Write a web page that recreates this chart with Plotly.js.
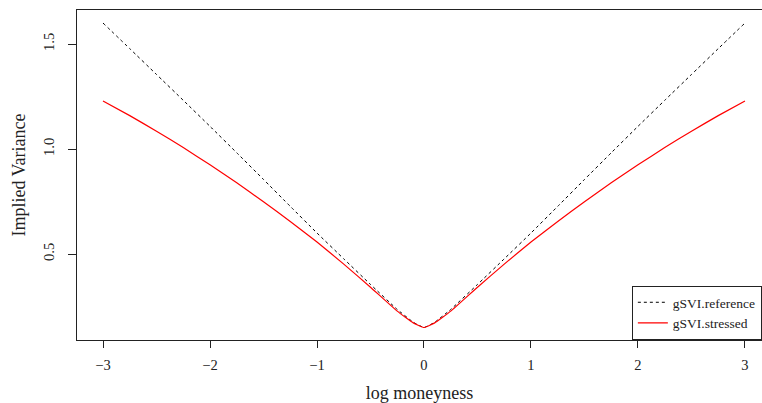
<!DOCTYPE html>
<html>
<head>
<meta charset="utf-8">
<script src="https://cdn.plot.ly/plotly-3.0.1.min.js"></script>
<style>html,body{margin:0;padding:0;background:#fff;}#chart{width:762px;height:403px;}</style>
</head>
<body>
<div id="chart"></div>
<script>
const logMoneyness = [-3, -2.75, -2.5, -2.25, -2, -1.75, -1.5, -1.25, -1, -0.75, -0.5, -0.25, -0.1, 0, 0.1, 0.25, 0.5, 0.75, 1, 1.25, 1.5, 1.75, 2, 2.25, 2.5, 2.75, 3];
const gsviReference = [1.60, 1.478, 1.355, 1.232, 1.108, 0.982, 0.855, 0.727, 0.60, 0.477, 0.355, 0.236, 0.175, 0.15, 0.175, 0.236, 0.355, 0.477, 0.60, 0.727, 0.855, 0.982, 1.108, 1.232, 1.355, 1.478, 1.60];
const gsviStressed = [1.229, 1.159, 1.085, 1.007, 0.925, 0.839, 0.749, 0.655, 0.557, 0.452, 0.342, 0.228, 0.172, 0.15, 0.172, 0.228, 0.342, 0.452, 0.557, 0.655, 0.749, 0.839, 0.925, 1.007, 1.085, 1.159, 1.229];
const xTicks = [-3, -2, -1, 0, 1, 2, 3];
const xTickText = ['\u22123', '\u22122', '\u22121', '0', '1', '2', '3'];
const yTicks = [0.5, 1.0, 1.5];
const yTickText = ['0.5', '1.0', '1.5'];

const serif = 'Liberation Serif, Times New Roman, serif';
const traces = [
  {x: logMoneyness, y: gsviReference, type: 'scatter', mode: 'lines', name: 'gSVI.reference',
   line: {color: 'black', width: 1, dash: '3px,3px', shape: 'spline', smoothing: 0.3}},
  {x: logMoneyness, y: gsviStressed, type: 'scatter', mode: 'lines', name: 'gSVI.stressed',
   line: {color: '#ff0000', width: 1.2, shape: 'spline', smoothing: 0.3}}
];
const layout = {
  width: 762, height: 403,
  margin: {l: 77, r: 0, t: 10, b: 63, autoexpand: false},
  paper_bgcolor: 'white', plot_bgcolor: 'white',
  font: {family: serif, color: '#222', size: 14},
  showlegend: true,
  legend: {x: 0.81, xanchor: 'left', y: 0, yanchor: 'bottom', bgcolor: 'white',
           bordercolor: '#222', borderwidth: 1, font: {family: serif, size: 13.5, color: '#222'},
           tracegroupgap: 0},
  xaxis: {range: [-3.243, 3.159], tickvals: xTicks, ticktext: xTickText, ticks: 'outside', ticklen: 7,
          tickcolor: '#222', showline: true, linecolor: '#222', linewidth: 1, mirror: true,
          showgrid: false, zeroline: false, tickfont: {size: 14.5}, ticklabelstandoff: 5,
          title: {text: 'log moneyness', font: {size: 18}, standoff: 16}},
  yaxis: {range: [0.0905, 1.662], tickvals: yTicks, ticktext: yTickText, ticks: 'outside', ticklen: 8,
          tickcolor: '#222', showline: true, linecolor: '#222', linewidth: 1, tickangle: -90,
          showgrid: false, zeroline: false, tickfont: {size: 14.5}, ticklabelstandoff: 8,
          title: {text: 'Implied Variance', font: {size: 18}, standoff: 10}}
};
Plotly.newPlot('chart', traces, layout, {displayModeBar: false, staticPlot: true});
</script>
</body>
</html>
